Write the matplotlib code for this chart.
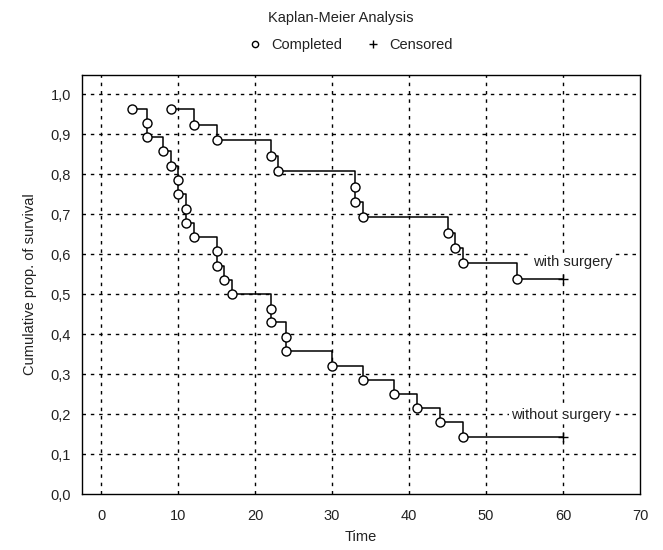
import matplotlib
matplotlib.use("Agg")
import matplotlib.pyplot as plt
from matplotlib.lines import Line2D

plt.rcParams['font.family'] = ['Liberation Sans', 'DejaVu Sans']

# Kaplan-Meier, without surgery (event times and survival after each event)
without_times = [4, 6, 6, 8, 9, 10, 10, 11, 11, 12, 15, 15, 16, 17,
                 22, 22, 24, 24, 30, 34, 38, 41, 44, 47]
without_surv = [0.964, 0.929, 0.893, 0.857, 0.821, 0.786, 0.750, 0.714,
                0.679, 0.643, 0.607, 0.571, 0.536, 0.500, 0.464, 0.429,
                0.393, 0.357, 0.321, 0.286, 0.250, 0.214, 0.179, 0.143]
without_censored = [60]

# with surgery
with_times = [9, 12, 15, 22, 23, 33, 33, 34, 45, 46, 47, 54]
with_surv = [0.962, 0.923, 0.885, 0.846, 0.808, 0.769, 0.731, 0.692,
             0.654, 0.615, 0.577, 0.538]
with_censored = [60]

xticks = [0, 10, 20, 30, 40, 50, 60, 70]
yticks = [0.0, 0.1, 0.2, 0.3, 0.4, 0.5, 0.6, 0.7, 0.8, 0.9, 1.0]

fig = plt.figure(figsize=(6.63, 5.5), dpi=100)
ax = fig.add_axes([0.1237, 0.1018, 0.8416, 0.7618])

grid_style = dict(color='black', linestyle=(0, (2.5, 3.5)), linewidth=1.0, zorder=1)
for x in xticks[:-1]:
    ax.axvline(x, **grid_style)
for y in yticks[1:]:
    ax.axhline(y, **grid_style)


def draw_curve(times, surv, censored):
    xs = times + censored
    ys = surv + [surv[-1]] * len(censored)
    ax.step(xs, ys, where='post', color='black', linewidth=1.1, zorder=3)
    ax.plot(times, surv, linestyle='none', marker='o', markersize=6.5,
            markerfacecolor='white', markeredgecolor='black',
            markeredgewidth=1.0, zorder=4)
    ax.plot(censored, [surv[-1]] * len(censored), linestyle='none',
            marker='+', markersize=7, color='black', markeredgewidth=1.0,
            zorder=4)


draw_curve(without_times, without_surv, without_censored)
draw_curve(with_times, with_surv, with_censored)

label_box = dict(facecolor='white', edgecolor='none', pad=1.5)
ax.text(56.1, 0.581, 'with surgery', fontsize=10.5, va='center', ha='left',
        color='#222222', bbox=label_box, zorder=5)
ax.text(53.3, 0.1975, 'without surgery', fontsize=10.5, va='center', ha='left',
        color='#222222', bbox=label_box, zorder=5)

ax.set_xlim(-2.5, 70)
ax.set_ylim(0, 1.048)
ax.set_xticks(xticks)
ax.set_yticks(yticks)
ax.set_yticklabels([f'{v:.1f}'.replace('.', ',') for v in yticks])
ax.tick_params(length=0, labelsize=10.5, labelcolor='#222222')
ax.tick_params(axis='x', pad=11)
ax.tick_params(axis='y', pad=8)
for s in ax.spines.values():
    s.set_linewidth(1.0)

ax.set_xlabel('Time', fontsize=10.5, color='#222222', labelpad=5)
ax.set_ylabel('Cumulative prop. of survival', fontsize=10.5, color='#222222',
              labelpad=10)

fig.text(341 / 663, 1 - 18 / 550, 'Kaplan-Meier Analysis', fontsize=10.5,
         ha='center', va='center', color='#222222')

handles = [
    Line2D([], [], linestyle='none', marker='o', markersize=4.5,
           markerfacecolor='white', markeredgecolor='black'),
    Line2D([], [], linestyle='none', marker='+', markersize=6, color='black'),
]
fig.legend(handles, ['Completed', 'Censored'], loc='center',
           bbox_to_anchor=(350 / 663, 1 - 45 / 550), ncol=2, frameon=False,
           fontsize=10.5, handlelength=1.0, handletextpad=0.6,
           columnspacing=1.6, labelcolor='#222222')

fig.savefig('out.png', dpi=100)
